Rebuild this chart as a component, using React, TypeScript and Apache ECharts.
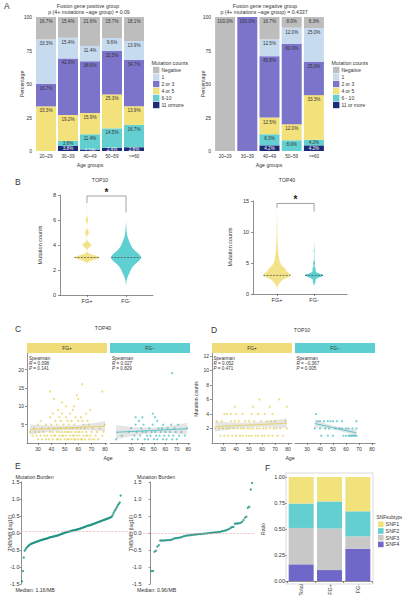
import React, { useEffect, useRef } from 'react';
import * as echarts from 'echarts';

const FONT = '"Liberation Sans", Arial, Helvetica, sans-serif';
const AXIS = '#444';
const TXT = '#333';

// ---------- A: mutation counts by age group ----------
const ageGroups = ['20~29', '30~39', '40~49', '50~59', '>=60'];
const levelNamesPos = ['Negative', '1', '2 or 3', '4 or 5', '6-10', '11 ormore'];
const levelNamesNeg = ['Negative', '1', '2 or 3', '4 or 5', '6 - 10', '11 or more'];
const levelColors = ['#bdbdbd', '#c7dbef', '#7b74ca', '#f3e27b', '#63cfd1', '#1c2a77'];

const posNegative = [16.7, 15.4, 21.6, 15.7, 18.1];
const posOne = [33.3, 15.4, 11.4, 9.6, 13.9];
const posTwoThree = [16.7, 42.3, 38.6, 32.5, 34.7];
const posFourFive = [33.3, 19.2, 15.9, 25.3, 13.9];
const posSixTen = [0, 3.8, 11.4, 14.5, 16.7];
const posElevenPlus = [0, 3.8, 1.1, 2.4, 2.8];

const negNegative = [100, 0, 16.7, 8.0, 8.3];
const negOne = [0, 0, 12.5, 12.0, 25.0];
const negTwoThree = [0, 100, 45.8, 60.0, 25.0];
const negFourFive = [0, 0, 12.5, 12.0, 33.3];
const negSixTen = [0, 0, 8.3, 8.0, 4.2];
const negElevenPlus = [0, 0, 4.2, 0, 4.2];

// ---------- B: violins of mutation counts ----------
const violinGroups = ['FG+', 'FG-'];
const countLevels = [2, 3, 4, 5, 6, 7, 8, 9, 10, 11, 12, 13];
const top10PosFreq = [0, 100, 35, 15, 10, 2, 0, 0, 0, 0, 0, 0];
const top10NegFreq = [15, 60, 15, 2, 0, 0, 0, 0, 0, 0, 0, 0];
const top40PosFreq = [30, 140, 80, 30, 18, 10, 7, 5, 3, 3, 1, 1];
const top40NegFreq = [10, 70, 12, 7, 2, 3, 1, 0, 0, 0, 0, 0];

// ---------- C / D: mutation counts vs age ----------
const cPosCounts = [1, 2, 3, 4, 5, 6, 7, 8, 9, 10, 11, 12, 13, 14, 16];
const cPosAges = [
  [30, 33, 36, 38, 41, 44, 45, 47, 50, 52, 53, 55, 57, 58, 60, 62, 63, 65, 68, 70, 72, 75],
  [26, 29, 32, 35, 37, 40, 42, 43, 46, 48, 49, 51, 54, 56, 57, 59, 61, 64, 66, 67, 69, 73, 78],
  [24, 28, 31, 34, 39, 41, 44, 46, 48, 50, 52, 53, 55, 58, 60, 61, 63, 66, 70, 74, 79],
  [27, 33, 38, 42, 45, 47, 51, 54, 56, 59, 62, 65, 71, 76],
  [30, 36, 40, 44, 49, 53, 57, 64, 68, 80],
  [32, 43, 47, 52, 55, 60, 63, 67],
  [39, 46, 51, 58, 62],
  [41, 48, 54, 66],
  [45, 56, 69],
  [51, 57],
  [48],
  [42, 60],
  [59],
  [39, 78],
  [63],
];
const cNegCounts = [1, 2, 3, 4, 5, 6, 7, 8, 19];
const cNegAges = [
  [17, 31, 36, 42, 45, 50, 53, 58, 61, 66, 70],
  [22, 33, 38, 44, 47, 52, 55, 59, 63, 67, 72, 77],
  [28, 35, 40, 43, 48, 51, 56, 60, 64, 69, 74],
  [30, 39, 46, 54, 57, 62, 68, 79],
  [34, 41, 49, 58, 65, 71],
  [37, 53],
  [34, 40, 51],
  [49],
  [66],
];
const dPosCounts = [1, 2, 3, 4, 5, 6];
const dPosAges = [
  [28, 31, 34, 37, 40, 43, 45, 48, 50, 52, 55, 57, 60, 62, 65, 68, 72, 76],
  [24, 27, 30, 33, 35, 38, 41, 44, 46, 49, 51, 53, 56, 58, 61, 63, 66, 69, 71, 74, 79],
  [25, 29, 36, 39, 42, 47, 50, 54, 59, 64, 67, 70, 78],
  [31, 33, 36, 40, 45, 52, 57, 62, 68],
  [39, 53, 66, 79],
  [58, 73],
];
const dNegCounts = [1, 2, 3, 4];
const dNegAges = [
  [41, 46, 50, 58, 60, 62, 63, 64, 65, 66, 67, 68],
  [36, 40, 44, 47, 52, 55, 57, 60, 62, 65, 68],
  [38, 40, 43, 46, 48, 50, 53, 57, 68],
  [37],
];
const cStatsPos = ['0.098', '0.141'];
const cStatsNeg = ['0.027', '0.829'];
const dStatsPos = ['0.052', '0.471'];
const dStatsNeg = ['\u22120.367', '0.005'];

// ---------- E: tumour mutation burden (log10, sorted) ----------
const tmbPos = [
  -1.42, -1.12, -0.72, -0.52, -0.48, -0.44, -0.41, -0.38, -0.36, -0.34,
  -0.32, -0.31, -0.30, -0.29, -0.28, -0.27, -0.26, -0.25, -0.24, -0.23,
  -0.22, -0.21, -0.20, -0.20, -0.19, -0.18, -0.17, -0.17, -0.16, -0.15,
  -0.14, -0.13, -0.12, -0.12, -0.11, -0.10, -0.10, -0.09, -0.08, -0.08,
  -0.07, -0.06, -0.05, -0.04, -0.03, -0.02, -0.01, 0.00, 0.01, 0.02,
  0.03, 0.03, 0.04, 0.05, 0.05, 0.06, 0.07, 0.07, 0.08, 0.09,
  0.09, 0.10, 0.11, 0.11, 0.12, 0.13, 0.14, 0.15, 0.16, 0.17,
  0.18, 0.19, 0.20, 0.21, 0.22, 0.22, 0.23, 0.24, 0.25, 0.26,
  0.27, 0.28, 0.29, 0.30, 0.31, 0.32, 0.33, 0.34, 0.35, 0.36,
  0.37, 0.38, 0.39, 0.40, 0.41, 0.42, 0.43, 0.44, 0.45, 0.46,
  0.48, 0.52, 0.58, 0.63, 0.68, 0.72, 0.77, 0.82, 0.86, 0.90,
  1.10,
];
const tmbNeg = [
  -1.12, -1.12, -0.55, -0.52, -0.40, -0.36, -0.22, -0.22, -0.22, -0.22,
  -0.21, -0.21, -0.21, -0.20, -0.20, -0.17, -0.16, -0.15, -0.15, -0.14,
  -0.13, -0.12, -0.10, -0.09, -0.08, -0.07, -0.07, -0.06, -0.06, -0.05,
  -0.05, -0.04, -0.04, -0.03, -0.03, -0.03, -0.02, -0.02, -0.01, -0.01,
  0.00, 0.00, 0.01, 0.01, 0.02, 0.02, 0.03, 0.03, 0.04, 0.05,
  0.06, 0.07, 0.08, 0.10, 0.12, 0.15, 0.18, 0.18, 0.27, 0.28,
  0.28, 0.29, 0.30, 0.33, 0.38, 0.45, 0.48, 0.74, 0.77, 1.28,
  1.47,
];
const tmbMedianPos = 1.16;
const tmbMedianNeg = 0.96;

// ---------- F: SNF subtype ratio ----------
const snfGroups = ['Total', 'FG+', 'FG-'];
const snfNames = ['SNF1', 'SNF2', 'SNF3', 'SNF4'];
const snfColors = ['#f2e27c', '#63cfd0', '#c8c8c8', '#7068c9'];
const snf1 = [0.255, 0.235, 0.33];
const snf2 = [0.235, 0.26, 0.24];
const snf3 = [0.35, 0.40, 0.12];
const snf4 = [0.16, 0.105, 0.31];

const YEL = '#f2e38a';
const YEL_PT = '#e6d25a';
const TEAL = '#5fd0d2';
const TEAL_PT = '#45c1c3';

type Pt = [number, number];

function expand(counts: number[], ages: number[][]): Pt[] {
  const out: Pt[] = [];
  counts.forEach((c, i) => ages[i].forEach((a) => out.push([a, c])));
  return out;
}

function linearFit(pts: Pt[]) {
  const n = pts.length;
  const mx = pts.reduce((s, p) => s + p[0], 0) / n;
  const my = pts.reduce((s, p) => s + p[1], 0) / n;
  let sxx = 0;
  let sxy = 0;
  pts.forEach((p) => {
    sxx += (p[0] - mx) ** 2;
    sxy += (p[0] - mx) * (p[1] - my);
  });
  const b = sxy / sxx;
  const a = my - b * mx;
  let rss = 0;
  pts.forEach((p) => (rss += (p[1] - a - b * p[0]) ** 2));
  const s = Math.sqrt(rss / (n - 2));
  const xs = pts.map((p) => p[0]);
  return { a, b, s, n, mx, sxx, xmin: Math.min(...xs), xmax: Math.max(...xs) };
}

function density(levels: number[], freqs: number[], bw: number) {
  const n = freqs.reduce((s, f) => s + f, 0);
  const used = levels.filter((_, i) => freqs[i] > 0);
  const lo = Math.min(...used) - 3 * bw;
  const hi = Math.max(...used) + 3 * bw;
  const ys: number[] = [];
  const ds: number[] = [];
  const steps = 200;
  for (let k = 0; k <= steps; k++) {
    const y = lo + ((hi - lo) * k) / steps;
    let d = 0;
    levels.forEach((v, i) => {
      const z = (y - v) / bw;
      d += freqs[i] * Math.exp(-0.5 * z * z);
    });
    ys.push(y);
    ds.push(d / (n * bw * Math.sqrt(2 * Math.PI)));
  }
  // median read from the data
  const half = n / 2;
  let cum = 0;
  let median = levels[0];
  for (let i = 0; i < levels.length; i++) {
    cum += freqs[i];
    if (cum >= half) {
      median = levels[i];
      break;
    }
  }
  return { ys, ds, dmax: Math.max(...ds), median };
}

type Violin = { x: number; freqs: number[]; bw: number; half: number; color: string };

function violinSeries(axis: number, violins: Violin[]) {
  const profiles = violins.map((v) => density(countLevels, v.freqs, v.bw));
  return {
    type: 'custom',
    xAxisIndex: axis,
    yAxisIndex: axis,
    data: violins.map((v, i) => [v.x, profiles[i].median]),
    renderItem: (params: any, api: any) => {
      const v = violins[params.dataIndex];
      const p = profiles[params.dataIndex];
      const left: number[][] = [];
      const right: number[][] = [];
      p.ys.forEach((y, k) => {
        const w = (v.half * p.ds[k]) / p.dmax;
        if (p.ds[k] / p.dmax < 0.004) return;
        left.push(api.coord([v.x - w, y]));
        right.push(api.coord([v.x + w, y]));
      });
      const outline = left.concat(right.reverse());
      let wMed = 0;
      let best = Infinity;
      p.ys.forEach((y, k) => {
        const d = Math.abs(y - p.median);
        if (d < best) {
          best = d;
          wMed = (v.half * p.ds[k]) / p.dmax;
        }
      });
      const a = api.coord([v.x - wMed, p.median]);
      const b = api.coord([v.x + wMed, p.median]);
      return {
        type: 'group',
        children: [
          { type: 'polygon', shape: { points: outline }, style: { fill: v.color, stroke: 'none' } },
          {
            type: 'line',
            shape: { x1: a[0], y1: a[1], x2: b[0], y2: b[1] },
            style: { stroke: '#4a4a4a', lineWidth: 0.7, lineDash: [2, 1.2] },
          },
        ],
      };
    },
    silent: true,
    z: 3,
  };
}

function bracketSeries(axis: number, x1: number, x2: number, yTop: number, yL: number, yR: number) {
  return {
    type: 'custom',
    xAxisIndex: axis,
    yAxisIndex: axis,
    data: [[x1, x2, yTop, yL, yR]],
    renderItem: (_p: any, api: any) => {
      const p1 = api.coord([api.value(0), api.value(3)]);
      const p2 = api.coord([api.value(0), api.value(2)]);
      const p3 = api.coord([api.value(1), api.value(2)]);
      const p4 = api.coord([api.value(1), api.value(4)]);
      return {
        type: 'group',
        children: [
          { type: 'polyline', shape: { points: [p1, p2, p3, p4] }, style: { stroke: '#7a7a7a', lineWidth: 0.7, fill: 'none' } },
          {
            type: 'text',
            x: (p2[0] + p3[0]) / 2,
            y: p2[1] - 4,
            style: { text: '*', fontSize: 10, fontWeight: 'bold', fill: '#222', align: 'center', verticalAlign: 'middle', fontFamily: FONT },
          },
        ],
      };
    },
    silent: true,
    z: 4,
  };
}

function fitSeries(axis: number, pts: Pt[], color: string) {
  const f = linearFit(pts);
  return {
    type: 'custom',
    xAxisIndex: axis,
    yAxisIndex: axis,
    data: [[f.xmin, f.a + f.b * f.xmin]],
    renderItem: (_p: any, api: any) => {
      const upper: number[][] = [];
      const lower: number[][] = [];
      const line: number[][] = [];
      const steps = 40;
      for (let k = 0; k <= steps; k++) {
        const x = f.xmin + ((f.xmax - f.xmin) * k) / steps;
        const yh = f.a + f.b * x;
        const se = f.s * Math.sqrt(1 / f.n + (x - f.mx) ** 2 / f.sxx);
        upper.push(api.coord([x, yh + 1.97 * se]));
        lower.push(api.coord([x, yh - 1.97 * se]));
        line.push(api.coord([x, yh]));
      }
      return {
        type: 'group',
        children: [
          { type: 'polygon', shape: { points: upper.concat(lower.reverse()) }, style: { fill: 'rgba(160,160,160,0.28)' } },
          { type: 'polyline', shape: { points: line }, style: { stroke: color, lineWidth: 0.9, fill: 'none' } },
        ],
      };
    },
    silent: true,
    z: 4,
  };
}

function stackBars(levels: number[][], names: string[], axis: number) {
  const out: any[] = [];
  for (let k = levels.length - 1; k >= 0; k--) {
    out.push({
      type: 'bar',
      name: names[k],
      xAxisIndex: axis,
      yAxisIndex: axis,
      stack: 'stackA' + axis,
      // thin segments carry their label at the centre so it stays inside the bar
      data: levels[k].map((v) => ({ value: v, label: { position: v < 5 ? 'inside' : 'insideTop' } })),
      barWidth: 20,
      itemStyle: { color: levelColors[k] },
      label: {
        show: true,
        position: 'insideTop',
        distance: 2,
        fontSize: 4.6,
        fontFamily: FONT,
        color: k === 5 ? '#fff' : TXT,
        formatter: (p: any) => (p.value > 0 ? p.value.toFixed(1) + '%' : ''),
      },
      silent: true,
    });
  }
  return out;
}

const lineStyle = { color: AXIS, width: 0.6 };

function axisBase(gridIndex: number, extra: any) {
  return {
    gridIndex,
    axisLine: { show: true, lineStyle },
    axisTick: { show: true, length: 2, lineStyle },
    splitLine: { show: false },
    ...extra,
    axisLabel: { fontSize: 5, color: TXT, margin: 3, fontFamily: FONT, ...(extra.axisLabel || {}) },
  };
}

function txt(x: number, y: number, text: string, o: any = {}) {
  return {
    type: 'text',
    x,
    y,
    rotation: o.rotation || 0,
    silent: true,
    z: 10,
    style: {
      text,
      fontSize: o.size || 5,
      fontFamily: FONT,
      fontWeight: o.weight || 'normal',
      fontStyle: o.style || 'normal',
      fill: o.color || TXT,
      align: o.align || 'left',
      verticalAlign: o.valign || 'middle',
      rich: o.rich,
    },
  };
}

function rect(x: number, y: number, w: number, h: number, fill: string, stroke = 'none') {
  return { type: 'rect', shape: { x, y, width: w, height: h }, style: { fill, stroke, lineWidth: 0.6 }, silent: true, z: 1 };
}

function legendBlock(x: number, names: string[], colors: string[], title: string, y0: number, step: number, sq: number, size: number, titleSize: number) {
  const els: any[] = [txt(x - 1.5, y0 - step, title, { size: titleSize })];
  names.forEach((n, i) => {
    const cy = y0 + i * step;
    els.push(rect(x, cy - sq / 2, sq, sq, colors[i]));
    els.push(txt(x + sq + 2, cy, n, { size }));
  });
  return els;
}

function spearman(x: number, stats: string[]) {
  const rich = { i: { fontStyle: 'italic', fontSize: 4.6, fontFamily: FONT, fill: TXT } };
  return [
    txt(x, 358, 'Spearman', { size: 4.6 }),
    txt(x, 363, '{i|R} = ' + stats[0], { size: 4.6, rich }),
    txt(x, 368, '{i|P} = ' + stats[1], { size: 4.6, rich }),
  ];
}

function buildOption() {
  const cPos = expand(cPosCounts, cPosAges);
  const cNeg = expand(cNegCounts, cNegAges);
  const dPos = expand(dPosCounts, dPosAges);
  const dNeg = expand(dNegCounts, dNegAges);

  const bPosLeft = [0.29, 0.71];
  const bPosRight = [0.255, 0.65];
  const ageTicks = [30, 40, 50, 60, 70, 80];

  const grids = [
    { left: 35, top: 17, width: 110, height: 134 },
    { left: 214, top: 17, width: 111, height: 134 },
    { left: 60, top: 195, width: 93, height: 100 },
    { left: 253, top: 201, width: 94, height: 93 },
    { left: 27, top: 353, width: 80, height: 90 },
    { left: 110, top: 353, width: 80, height: 90 },
    { left: 212, top: 353, width: 80, height: 90 },
    { left: 295, top: 353, width: 80, height: 90 },
    { left: 21, top: 482, width: 114, height: 102 },
    { left: 143, top: 482, width: 112, height: 102 },
    { left: 287, top: 477, width: 85, height: 104 },
  ].map((g) => ({ ...g, containLabel: false, outerBoundsMode: 'none' }));

  const groupLabel = (pos: number[]) => (v: number) => {
    const i = pos.findIndex((p) => Math.abs(p - v) < 1e-6);
    return i >= 0 ? violinGroups[i] : '';
  };

  const xAxis: any[] = [
    axisBase(0, { type: 'category', data: ageGroups, axisLine: { show: false }, axisTick: { show: false }, axisLabel: { interval: 0, fontSize: 4.6, margin: 3 } }),
    axisBase(1, { type: 'category', data: ageGroups, axisLine: { show: false }, axisTick: { show: false }, axisLabel: { interval: 0, fontSize: 4.6, margin: 3 } }),
    axisBase(2, {
      type: 'value', min: 0, max: 1,
      axisTick: { show: true, length: 2, lineStyle, customValues: bPosLeft },
      axisLabel: { customValues: bPosLeft, formatter: groupLabel(bPosLeft), fontSize: 5.5 },
    }),
    axisBase(3, {
      type: 'value', min: 0, max: 1,
      axisTick: { show: true, length: 2, lineStyle, customValues: bPosRight },
      axisLabel: { customValues: bPosRight, formatter: groupLabel(bPosRight), fontSize: 5.5 },
    }),
    axisBase(4, { type: 'value', min: 21.8, max: 81.5, axisTick: { show: true, length: 2, lineStyle, customValues: ageTicks }, axisLabel: { customValues: ageTicks } }),
    axisBase(5, { type: 'value', min: 11.7, max: 81.5, axisTick: { show: true, length: 2, lineStyle, customValues: ageTicks }, axisLabel: { customValues: ageTicks } }),
    axisBase(6, { type: 'value', min: 21.5, max: 83, axisTick: { show: true, length: 2, lineStyle, customValues: ageTicks }, axisLabel: { customValues: ageTicks } }),
    axisBase(7, { type: 'value', min: 20.8, max: 82.3, axisTick: { show: true, length: 2, lineStyle, customValues: ageTicks }, axisLabel: { customValues: ageTicks } }),
    { gridIndex: 8, type: 'value', min: -0.1, max: tmbPos.length + 16, show: false },
    { gridIndex: 9, type: 'value', min: -5, max: tmbNeg.length + 2, show: false },
    axisBase(10, { type: 'category', data: snfGroups, axisLabel: { interval: 0, rotate: 90, fontSize: 5.5, margin: 3 } }),
  ];

  const yAxis: any[] = [
    axisBase(0, { type: 'value', min: 0, max: 100, interval: 25, axisLine: { show: false }, axisTick: { show: false } }),
    axisBase(1, { type: 'value', min: 0, max: 100, interval: 25, axisLine: { show: false }, axisTick: { show: false } }),
    axisBase(2, { type: 'value', min: 0, max: 8, interval: 2, axisLabel: { fontSize: 5.5, margin: 4 } }),
    axisBase(3, { type: 'value', min: 0, max: 15, interval: 5, axisLabel: { fontSize: 5.5, margin: 4 } }),
    axisBase(4, { type: 'value', min: 0, max: 24.5, axisTick: { show: true, length: 2, lineStyle, customValues: [5, 10, 15, 20] }, axisLabel: { customValues: [5, 10, 15, 20] } }),
    { gridIndex: 5, type: 'value', min: 0, max: 24.5, show: false },
    axisBase(6, { type: 'value', min: 0, max: 12.4, axisTick: { show: true, length: 2, lineStyle, customValues: [2, 4, 6, 8, 10, 12] }, axisLabel: { customValues: [2, 4, 6, 8, 10, 12] } }),
    { gridIndex: 7, type: 'value', min: 0, max: 12.4, show: false },
    axisBase(8, { type: 'value', min: -1.5, max: 1.5, interval: 0.5, axisTick: { show: true, length: 1.5, lineStyle }, axisLabel: { fontSize: 5.5, margin: 1.5, formatter: (v: number) => v.toFixed(1) } }),
    axisBase(9, { type: 'value', min: -1.5, max: 1.5, interval: 0.5, axisTick: { show: true, length: 1.5, lineStyle }, axisLabel: { fontSize: 5.5, margin: 1.5, formatter: (v: number) => v.toFixed(1) } }),
    axisBase(10, { type: 'value', min: 0, max: 1, interval: 0.25, axisLine: { show: false }, axisLabel: { fontSize: 5.5, margin: 2, formatter: (v: number) => v.toFixed(2) } }),
  ];

  const series: any[] = [];
  series.push(...stackBars([posNegative, posOne, posTwoThree, posFourFive, posSixTen, posElevenPlus], levelNamesPos, 0));
  series.push(...stackBars([negNegative, negOne, negTwoThree, negFourFive, negSixTen, negElevenPlus], levelNamesNeg, 1));

  series.push(
    violinSeries(2, [
      { x: bPosLeft[0], freqs: top10PosFreq, bw: 0.17, half: 0.135, color: YEL },
      { x: bPosLeft[1], freqs: top10NegFreq, bw: 0.45, half: 0.16, color: TEAL },
    ])
  );
  series.push(
    violinSeries(3, [
      { x: bPosRight[0], freqs: top40PosFreq, bw: 0.45, half: 0.145, color: YEL },
      { x: bPosRight[1], freqs: top40NegFreq, bw: 0.3, half: 0.097, color: TEAL },
    ])
  );
  series.push(bracketSeries(2, bPosLeft[0], bPosLeft[1], 7.92, 7.36, 6.6));
  series.push(bracketSeries(3, bPosRight[0], bPosRight[1], 14.6, 13.9, 13.3));

  const scatter = (axis: number, data: Pt[], color: string) => ({
    type: 'scatter', xAxisIndex: axis, yAxisIndex: axis, data, symbolSize: 2.2,
    itemStyle: { color, opacity: 0.75 }, silent: true, z: 3,
  });
  series.push(scatter(4, cPos, YEL_PT), fitSeries(4, cPos, '#e4cf55'));
  series.push(scatter(5, cNeg, TEAL_PT), fitSeries(5, cNeg, '#3fbcbf'));
  series.push(scatter(6, dPos, YEL_PT), fitSeries(6, dPos, '#e4cf55'));
  series.push(scatter(7, dNeg, TEAL_PT), fitSeries(7, dNeg, '#3fbcbf'));

  const tmbSeries = (axis: number, vals: number[], median: number) => ({
    type: 'scatter', xAxisIndex: axis, yAxisIndex: axis,
    data: vals.map((v, i) => [i + 1, v]), symbolSize: 2.3,
    itemStyle: { color: '#168f7e' }, silent: true, z: 3,
    markLine: {
      silent: true, symbol: 'none', label: { show: false },
      lineStyle: { color: '#f2a3a3', type: 'dashed', width: 0.6 },
      data: [{ yAxis: Math.log10(median) }],
    },
  });
  series.push(tmbSeries(8, tmbPos, tmbMedianPos));
  series.push(tmbSeries(9, tmbNeg, tmbMedianNeg));

  [snf4, snf3, snf2, snf1].forEach((vals, j) => {
    const k = 3 - j;
    series.push({
      type: 'bar', name: snfNames[k], xAxisIndex: 10, yAxisIndex: 10, stack: 'snf',
      data: vals, barWidth: 25, itemStyle: { color: snfColors[k] }, silent: true,
    });
  });

  const graphic: any[] = [
    // A
    txt(4, 6, 'A', { size: 8.5 }),
    txt(88, 5.7, 'Fusion gene positive group', { align: 'center', size: 5.2 }),
    txt(89, 12.3, 'p (4+ mutations ~age group) = 0.09', { align: 'center', size: 5.2 }),
    txt(265, 5.7, 'Fusion gene negative group', { align: 'center', size: 5.2 }),
    txt(264, 12.3, 'p (4+ mutations ~age group) = 0.4337', { align: 'center', size: 5.2 }),
    txt(21.5, 84, 'Percentage', { align: 'center', rotation: Math.PI / 2, size: 5.2 }),
    txt(202.5, 84, 'Percentage', { align: 'center', rotation: Math.PI / 2, size: 5.2 }),
    txt(90, 164.5, 'Age groups', { align: 'center', size: 5.2 }),
    txt(269, 164.5, 'Age groups', { align: 'center', size: 5.2 }),
    ...legendBlock(153, levelNamesPos, levelColors, 'Mutation counts', 70, 7, 6.4, 5, 5.2),
    ...legendBlock(333, levelNamesNeg, levelColors, 'Mutation counts', 70, 7, 6.4, 5, 5.2),
    // B
    txt(15, 182, 'B', { size: 8.5 }),
    txt(100, 180, 'TOP10', { align: 'center', size: 5.2 }),
    txt(287, 180, 'TOP40', { align: 'center', size: 5.2 }),
    txt(40, 245, 'Mutation counts', { align: 'center', rotation: Math.PI / 2, size: 5.5 }),
    txt(230, 247, 'Mutation counts', { align: 'center', rotation: Math.PI / 2, size: 5.5 }),
    // C / D
    txt(15, 329, 'C', { size: 8.5 }),
    txt(103, 328, 'TOP40', { align: 'center', size: 5.2 }),
    txt(211, 330, 'D', { size: 8.5 }),
    txt(302, 330, 'TOP10', { align: 'center', size: 5.2 }),
    rect(27, 343, 80, 10, '#f0dc78'),
    rect(110, 343, 80, 10, '#5ecfd1'),
    rect(212, 343, 80, 10, '#f0dc78'),
    rect(295, 343, 80, 10, '#5ecfd1'),
    txt(67, 348, 'FG+', { align: 'center', size: 4.8 }),
    txt(150, 348, 'FG\u2212', { align: 'center', size: 4.8 }),
    txt(252, 348, 'FG+', { align: 'center', size: 4.8 }),
    txt(335, 348, 'FG\u2212', { align: 'center', size: 4.8 }),
    ...spearman(29, cStatsPos),
    ...spearman(112, cStatsNeg),
    ...spearman(213.5, dStatsPos),
    ...spearman(296.5, dStatsNeg),
    txt(108, 457.5, 'Age', { align: 'center', size: 5.2 }),
    txt(290, 457.5, 'Age', { align: 'center', size: 5.2 }),
    txt(196, 399, 'Mutation counts', { align: 'center', rotation: Math.PI / 2, size: 5 }),
    // E
    txt(15, 466, 'E', { size: 8.5 }),
    txt(15.5, 476.7, 'Mutation Burden', { size: 5.2 }),
    txt(137, 476.7, 'Mutation Burden', { size: 5.2 }),
    txt(15.5, 590, 'Median: ' + tmbMedianPos.toFixed(2) + '/MB', { size: 5.2 }),
    txt(137, 590, 'Median: ' + tmbMedianNeg.toFixed(2) + '/MB', { size: 5.2 }),
    txt(9.5, 533, 'TMB/MB (log10)', { align: 'center', rotation: Math.PI / 2, size: 5 }),
    txt(131, 533, 'TMB/MB (log10)', { align: 'center', rotation: Math.PI / 2, size: 5 }),
    // F
    txt(265, 468, 'F', { size: 8.5 }),
    rect(286, 473, 87, 111, 'none', '#c4c4c4'),
    txt(263, 529, 'Ratio', { align: 'center', rotation: Math.PI / 2, size: 5.2 }),
    ...legendBlock(378, snfNames, snfColors, 'SNFsubtype', 524.3, 6.7, 5.6, 5.3, 4.8),
  ];

  return {
    animation: false,
    backgroundColor: '#ffffff',
    textStyle: { fontFamily: FONT },
    grid: grids,
    xAxis,
    yAxis,
    series,
    graphic: { elements: graphic },
  };
}

export default function App() {
  const ref = useRef<HTMLDivElement>(null);
  useEffect(() => {
    if (!ref.current) return;
    const chart = echarts.init(ref.current, null, { renderer: 'svg' });
    chart.setOption(buildOption() as any);
    return () => chart.dispose();
  }, []);
  return (
    <div
      ref={ref}
      style={{ position: 'absolute', left: 0, top: 0, width: 402, height: 600, background: '#fff' }}
    />
  );
}
